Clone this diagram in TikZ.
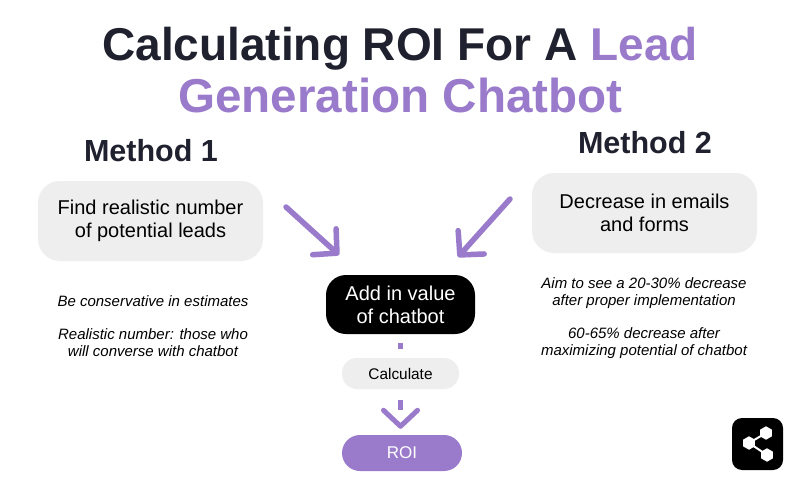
\documentclass[tikz,border=0pt]{standalone}
\usepackage{fontspec}
\setmainfont{Liberation Sans}
\usetikzlibrary{arrows.meta,shapes.geometric}
\definecolor{ink}{HTML}{20212F}
\definecolor{lilac}{HTML}{9A7BCB}
\definecolor{soft}{HTML}{EEEEEE}
\tikzset{
  x=1pt,y=-1pt,
  titletext/.style={font=\fontsize{46}{46}\selectfont\bfseries,text=ink,inner sep=0pt,anchor=base},
  methodtext/.style={font=\fontsize{30.5}{30}\selectfont\bfseries,text=ink,inner sep=0pt},
  boxtext/.style={font=\fontsize{20}{23}\selectfont,align=center,text=black},
  softbox/.style={draw=none,fill=soft,rounded corners=22pt,boxtext},
  notetext/.style={font=\fontsize{15}{17}\selectfont\itshape,align=center,text=black,inner sep=0pt},
  bigarrow/.style={draw=lilac,line width=5.5pt,line cap=round,line join=round,-{Straight Barb[length=17pt,width=35pt,line width=5.5pt,round]}},
  flowdash/.style={draw=lilac,line width=5pt},
  hexa/.style={regular polygon,regular polygon sides=6,shape border rotate=30,fill=white,draw=none,minimum size=13.5pt,inner sep=0pt},
}
\begin{document}
\begin{tikzpicture}
\useasboundingbox[fill=white] (0,0) rectangle (800,484);
% title
\node[titletext] (t1) at (400,61) {Calculating ROI For A \textcolor{lilac}{Lead}};
\node[titletext,text=lilac,font=\fontsize{47.6}{47}\selectfont\bfseries] (t2) at (400.5,113) {Generation Chatbot};
\node[methodtext] (m1) at (151,151) {Method 1};
\node[methodtext] (m2) at (645,143) {Method 2};
% connectors behind nodes
\coordinate (a1s) at (286,207);
\coordinate (a1e) at (339,255);
\coordinate (a2s) at (510,199);
\coordinate (a2e) at (458,257);
\draw[bigarrow] (a1s) -- (a1e);
\draw[bigarrow] (a2s) -- (a2e);
% boxes
\node[softbox,minimum width=225pt,minimum height=80pt] (b1) at (150.5,221) {Find realistic number\\of potential leads};
\node[softbox,minimum width=225pt,minimum height=80pt] (b2) at (644.5,213) {Decrease in emails\\and forms};
\node[draw=none,fill=black,rounded corners=20pt,boxtext,text=white,minimum width=149pt,minimum height=59pt] (add) at (400.5,304.5) {Add in value\\of chatbot};
\node[draw=none,fill=soft,rounded corners=15pt,font=\fontsize{15.4}{17}\selectfont,minimum width=117pt,minimum height=31pt,inner sep=0pt] (calc) at (400.5,373.5) {Calculate};
\node[draw=none,fill=lilac,rounded corners=18pt,font=\fontsize{17}{18}\selectfont,text=white,minimum width=120pt,minimum height=36pt,inner sep=0pt] (roi) at (402,453) {ROI};
% flow
\draw[flowdash,dash pattern=on 0pt off 9pt on 6pt off 99pt] (add.south) -- (calc.north);
\draw[flowdash,dash pattern=on 0pt off 11pt on 10pt off 99pt,-{Straight Barb[length=16pt,width=34pt,line width=5pt,round]},shorten >=6pt] (calc.south) -- (calc.south |- roi.north);
% notes
\node[notetext] (n1) at (153,301) {Be conservative in estimates};
\node[notetext] (n2) at (153,343) {Realistic number: those who\\will converse with chatbot};
\node[notetext] (n3) at (644,293) {Aim to see a 20-30\% decrease\\after proper implementation};
\node[notetext] (n4) at (644,343) {60-65\% decrease after\\maximizing potential of chatbot};
% share icon
\fill[black,rounded corners=10pt] (732,418) rectangle (783,470);
\draw[white,line width=2pt] (766,433) -- (749,443) -- (767,455);
\node[hexa] (h1) at (766,433) {};
\node[hexa] (h2) at (749,443) {};
\node[hexa] (h3) at (767,455) {};
\end{tikzpicture}
\end{document}
